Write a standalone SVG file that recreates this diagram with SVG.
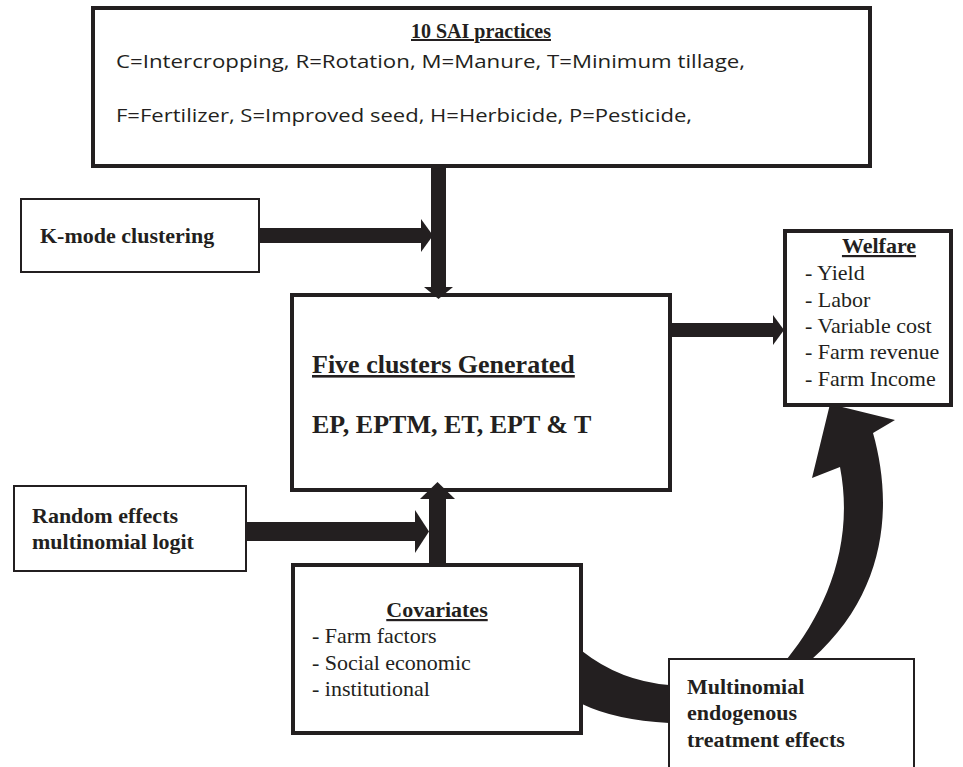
<svg xmlns="http://www.w3.org/2000/svg" width="963" height="767" viewBox="0 0 963 767">
<style>
.box{fill:#ffffff;stroke:#231f20}
.thick{stroke-width:4}
.thin{stroke-width:2}
.serif{font-family:"Liberation Serif","Times New Roman",serif;fill:#231f20}
.b{font-weight:bold}
.u{text-decoration:underline}
.sans{font-family:"Open Sans","Noto Sans",sans-serif;fill:#231f20}
.arr{fill:#231f20;stroke:none}
</style>
<rect width="963" height="767" fill="#ffffff"/>
<g id="sai">
<rect class="box thick" x="93" y="8" width="777" height="158"/>
<text class="serif b u" x="481" y="38" font-size="20" text-anchor="middle">10 SAI practices</text>
<text class="sans" x="116" y="68" font-size="19" textLength="629" lengthAdjust="spacingAndGlyphs">C=Intercropping, R=Rotation, M=Manure, T=Minimum tillage,</text>
<text class="sans" x="116" y="122" font-size="19" textLength="576" lengthAdjust="spacingAndGlyphs">F=Fertilizer, S=Improved seed, H=Herbicide, P=Pesticide,</text>
</g>
<g id="kmode">
<rect class="box thin" x="21" y="199" width="238" height="73"/>
<text class="serif b" x="40" y="243" font-size="22">K-mode clustering</text>
</g>
<g id="clusters">
<rect class="box thick" x="292" y="295" width="378" height="195"/>
<text class="serif b u" x="312" y="373" font-size="26">Five clusters Generated</text>
<text class="serif b" x="312" y="433" font-size="26">EP, EPTM, ET, EPT &amp; T</text>
</g>
<g id="welfare">
<rect class="box thick" x="785" y="231" width="166" height="174"/>
<text class="serif b u" x="879" y="253" font-size="22" text-anchor="middle">Welfare</text>
<text class="serif" x="805" y="280" font-size="22">- Yield</text>
<text class="serif" x="805" y="307" font-size="22">- Labor</text>
<text class="serif" x="805" y="333" font-size="22">- Variable cost</text>
<text class="serif" x="805" y="359" font-size="22">- Farm revenue</text>
<text class="serif" x="805" y="386" font-size="22">- Farm Income</text>
</g>
<g id="random">
<rect class="box thin" x="14" y="486" width="232" height="85"/>
<text class="serif b" x="32" y="523" font-size="22">Random effects</text>
<text class="serif b" x="32" y="549" font-size="22">multinomial logit</text>
</g>
<g id="covariates">
<rect class="box thick" x="293" y="565" width="288" height="168"/>
<text class="serif b u" x="437" y="617" font-size="22" text-anchor="middle">Covariates</text>
<text class="serif" x="312" y="643" font-size="22">- Farm factors</text>
<text class="serif" x="312" y="670" font-size="22">- Social economic</text>
<text class="serif" x="312" y="696" font-size="22">- institutional</text>
</g>
<g id="metme">
<rect class="box thin" x="669" y="659" width="245" height="130"/>
<text class="serif b" x="687" y="694" font-size="22">Multinomial</text>
<text class="serif b" x="687" y="720" font-size="22">endogenous</text>
<text class="serif b" x="687" y="747" font-size="22">treatment effects</text>
</g>
<g id="connectors">
<rect class="arr" x="431" y="166" width="15" height="121"/>
<polygon class="arr" points="424,287 453,287 438.5,299"/>
<rect class="arr" x="259" y="228" width="162" height="15"/>
<polygon class="arr" points="421,219 433,235.5 421,252"/>
<rect class="arr" x="670" y="323" width="103" height="14"/>
<polygon class="arr" points="773,315 784,330 773,345"/>
<rect class="arr" x="246" y="522" width="169" height="19"/>
<polygon class="arr" points="415,510 429,531.5 415,553"/>
<rect class="arr" x="429" y="498" width="17" height="66"/>
<polygon class="arr" points="420,499 455,499 437.5,482"/>
<path class="arr" d="M 582,651 Q 620,681 669,685 L 669,723 Q 615,720 582,704 Z"/>
<path class="arr" d="M 787,659 C 825,612 855,545 840,467 L 812,478 L 830,404 L 895,420 L 873,433 C 892,500 890,590 812,659 Z"/>
</g>
</svg>
